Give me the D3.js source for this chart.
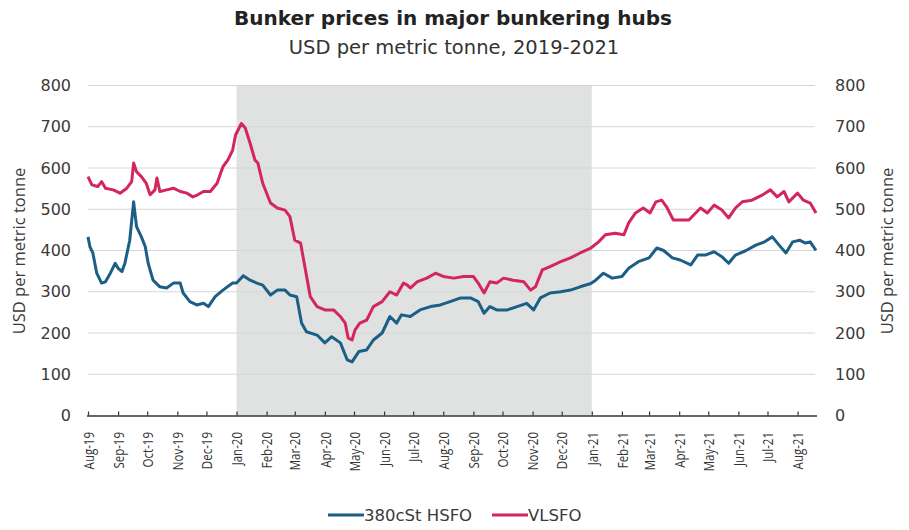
<!DOCTYPE html>
<html><head><meta charset="utf-8">
<script src="https://cdn.jsdelivr.net/npm/d3@7"></script>
<style>
html,body{margin:0;padding:0;background:#fff;}
svg{display:block;font-family:"DejaVu Sans",sans-serif;}
</style></head>
<body>
<svg id="chart" width="909" height="530"></svg>
<script>
// ---- data ----
const title = "Bunker prices in major bunkering hubs";
const subtitle = "USD per metric tonne, 2019-2021";
const yTitle = "USD per metric tonne";
const yTicks = [0,100,200,300,400,500,600,700,800];
const monthTicks = ["2019-08-01","2019-09-01","2019-10-01","2019-11-01","2019-12-01","2020-01-01","2020-02-01","2020-03-01","2020-04-01","2020-05-01","2020-06-01","2020-07-01","2020-08-01","2020-09-01","2020-10-01","2020-11-01","2020-12-01","2021-01-01","2021-02-01","2021-03-01","2021-04-01","2021-05-01","2021-06-01","2021-07-01","2021-08-01"];
const shadeRange = ["2020-01-01","2021-01-01"];
const dateDomain = ["2019-08-01","2021-08-21"];
const seriesNames = ["380cSt HSFO","VLSFO"];

const hsfoDates = ["2019-08-01","2019-08-03","2019-08-06","2019-08-10","2019-08-15","2019-08-19","2019-08-24","2019-08-29","2019-09-01","2019-09-05","2019-09-08","2019-09-13","2019-09-17","2019-09-20","2019-09-25","2019-09-29","2019-10-02","2019-10-07","2019-10-14","2019-10-21","2019-10-28","2019-11-04","2019-11-07","2019-11-14","2019-11-21","2019-11-28","2019-12-03","2019-12-10","2019-12-18","2019-12-28","2020-01-01","2020-01-08","2020-01-15","2020-01-22","2020-01-28","2020-02-05","2020-02-12","2020-02-20","2020-02-25","2020-03-03","2020-03-08","2020-03-13","2020-03-24","2020-04-01","2020-04-08","2020-04-17","2020-04-24","2020-04-29","2020-05-06","2020-05-14","2020-05-21","2020-05-30","2020-06-07","2020-06-14","2020-06-19","2020-06-28","2020-07-08","2020-07-19","2020-07-29","2020-08-08","2020-08-19","2020-08-29","2020-09-06","2020-09-12","2020-09-18","2020-09-25","2020-10-06","2020-10-16","2020-10-26","2020-11-02","2020-11-09","2020-11-19","2020-11-30","2020-12-10","2020-12-20","2020-12-31","2021-01-05","2021-01-13","2021-01-22","2021-02-01","2021-02-08","2021-02-18","2021-03-01","2021-03-09","2021-03-16","2021-03-25","2021-04-02","2021-04-13","2021-04-20","2021-04-28","2021-05-07","2021-05-15","2021-05-22","2021-05-29","2021-06-09","2021-06-19","2021-06-28","2021-07-06","2021-07-13","2021-07-20","2021-07-27","2021-08-03","2021-08-09","2021-08-14","2021-08-20"];
const hsfoValues = [433,409,394,345,321,324,345,369,357,349,369,425,518,458,433,409,369,328,312,309,321,321,297,276,268,272,264,288,304,321,321,339,328,321,316,292,304,304,292,288,224,203,195,176,191,176,135,130,155,159,183,200,240,224,244,240,256,264,268,276,285,285,276,248,264,256,256,264,272,256,285,297,300,304,312,320,328,345,333,337,357,373,382,406,400,382,377,365,389,389,397,385,369,389,400,413,421,433,413,394,421,425,418,421,400];

const vlsfoDates = ["2019-08-01","2019-08-05","2019-08-11","2019-08-15","2019-08-19","2019-08-27","2019-09-03","2019-09-10","2019-09-15","2019-09-17","2019-09-20","2019-09-25","2019-09-30","2019-10-04","2019-10-09","2019-10-11","2019-10-14","2019-10-21","2019-10-28","2019-11-04","2019-11-11","2019-11-17","2019-11-22","2019-11-28","2019-12-05","2019-12-12","2019-12-18","2019-12-23","2019-12-28","2019-12-31","2020-01-06","2020-01-10","2020-01-15","2020-01-20","2020-01-23","2020-01-28","2020-02-05","2020-02-12","2020-02-20","2020-02-25","2020-03-01","2020-03-07","2020-03-12","2020-03-17","2020-03-24","2020-04-01","2020-04-10","2020-04-17","2020-04-22","2020-04-25","2020-04-29","2020-05-02","2020-05-07","2020-05-14","2020-05-21","2020-05-30","2020-06-07","2020-06-14","2020-06-21","2020-06-25","2020-06-28","2020-07-05","2020-07-15","2020-07-24","2020-08-01","2020-08-12","2020-08-22","2020-09-01","2020-09-06","2020-09-12","2020-09-18","2020-09-25","2020-10-02","2020-10-12","2020-10-23","2020-10-30","2020-11-04","2020-11-11","2020-11-19","2020-11-30","2020-12-10","2020-12-20","2020-12-31","2021-01-08","2021-01-15","2021-01-25","2021-02-03","2021-02-08","2021-02-15","2021-02-23","2021-03-02","2021-03-08","2021-03-14","2021-03-19","2021-03-26","2021-04-04","2021-04-11","2021-04-18","2021-04-23","2021-04-30","2021-05-07","2021-05-15","2021-05-22","2021-05-29","2021-06-05","2021-06-15","2021-06-26","2021-07-04","2021-07-11","2021-07-18","2021-07-23","2021-08-01","2021-08-07","2021-08-14","2021-08-20"];
const vlsfoValues = [579,559,555,567,551,547,539,551,567,612,591,579,563,535,547,576,543,547,551,543,539,530,535,543,543,563,603,619,643,680,708,697,660,619,612,563,515,503,498,482,425,418,353,288,264,256,256,240,224,188,183,207,224,231,264,276,300,292,321,316,309,324,333,345,337,333,337,337,321,297,324,321,333,328,324,304,312,353,361,373,382,394,406,421,438,442,438,467,491,503,491,518,522,506,474,474,474,491,503,491,510,498,479,503,518,522,535,547,530,543,518,539,522,515,491];

// ---- drawing ----
const parse = d3.timeParse("%Y-%m-%d");
const fmt = d3.timeFormat("%b-%y");
const svg = d3.select("#chart");
const x = d3.scaleTime().domain(dateDomain.map(parse)).range([88, 817]);
const y = d3.scaleLinear().domain([0, 800]).range([415.5, 85.5]);
const colors = ["#1b5f86", "#d4265c"];
const textCol = "#3a3a3a";
const wide = '"DejaVu Sans",sans-serif';
const narrow = '"Open Sans",sans-serif';

// shaded period
svg.append("rect")
  .attr("x", x(parse(shadeRange[0])))
  .attr("y", y(800))
  .attr("width", x(parse(shadeRange[1])) - x(parse(shadeRange[0])))
  .attr("height", y(0) - y(800))
  .attr("fill", "#e0e2e2");

// gridlines
svg.append("g").selectAll("line").data(yTicks.filter(d => d > 0)).join("line")
  .attr("x1", 88).attr("x2", 815)
  .attr("y1", d => y(d)).attr("y2", d => y(d))
  .attr("stroke", "#d6d6d6").attr("stroke-width", 1);

// y axis labels (both sides)
const yAxisL = d3.axisLeft(y).tickValues(yTicks).tickSize(0).tickPadding(0);
const gL = svg.append("g").attr("transform", "translate(71,0)").call(yAxisL);
gL.select(".domain").remove();
gL.selectAll("text").attr("fill", textCol).style("font-size", "16px").style("font-family", wide);

const yAxisR = d3.axisRight(y).tickValues(yTicks).tickSize(0).tickPadding(0);
const gR = svg.append("g").attr("transform", "translate(835,0)").call(yAxisR);
gR.select(".domain").remove();
gR.selectAll("text").attr("fill", textCol).style("font-size", "16px").style("font-family", wide);

// x axis
const xAxis = d3.axisTop(x).tickValues(monthTicks.map(parse)).tickSize(4).tickFormat(fmt);
const gX = svg.append("g").attr("transform", `translate(0,${y(0)})`).call(xAxis);
gX.select(".domain").attr("d", `M87,0.5H817`).attr("stroke", "#333").attr("stroke-width", 1.3);
gX.selectAll(".tick line").attr("stroke", "#333").attr("stroke-width", 1.2);
gX.selectAll(".tick text")
  .attr("fill", "#333")
  .style("font-size", "11.5px").style("font-family", narrow)
  .attr("text-anchor", "end")
  .attr("transform", "rotate(-90) scale(1,1.3)")
  .attr("x", -16.5).attr("y", 0).attr("dy", "0.35em");

// lines
const line = d3.line().x(d => x(d[0])).y(d => y(d[1]));
const hsfo = hsfoDates.map((d, i) => [parse(d), hsfoValues[i]]);
const vlsfo = vlsfoDates.map((d, i) => [parse(d), vlsfoValues[i]]);
[hsfo, vlsfo].forEach((s, i) => {
  svg.append("path").datum(s).attr("d", line)
    .attr("fill", "none").attr("stroke", colors[i]).attr("stroke-width", 3)
    .attr("stroke-linejoin", "round");
});

// titles
svg.append("text").attr("x", 453).attr("y", 25).attr("text-anchor", "middle")
  .style("font-size", "20px").style("font-weight", "bold").style("font-family", wide)
  .attr("fill", "#222").text(title);
svg.append("text").attr("x", 454).attr("y", 54).attr("text-anchor", "middle")
  .style("font-size", "19.5px").style("font-family", wide).attr("fill", "#333").text(subtitle);

// axis titles
svg.append("text").attr("transform", "translate(25,251) rotate(-90)").attr("text-anchor", "middle")
  .style("font-size", "16.5px").style("font-family", narrow).attr("fill", textCol).text(yTitle);
svg.append("text").attr("transform", "translate(893,251) rotate(-90)").attr("text-anchor", "middle")
  .style("font-size", "16.5px").style("font-family", narrow).attr("fill", textCol).text(yTitle);

// legend
const legX = [328, 492];
seriesNames.forEach((n, i) => {
  svg.append("line").attr("x1", legX[i]).attr("x2", legX[i] + 36)
    .attr("y1", 515).attr("y2", 515).attr("stroke", colors[i]).attr("stroke-width", 3);
  svg.append("text").attr("x", legX[i] + 36).attr("y", 521)
    .style("font-size", "16.5px").style("font-family", wide).attr("fill", textCol).text(n);
});
</script>
</body></html>
